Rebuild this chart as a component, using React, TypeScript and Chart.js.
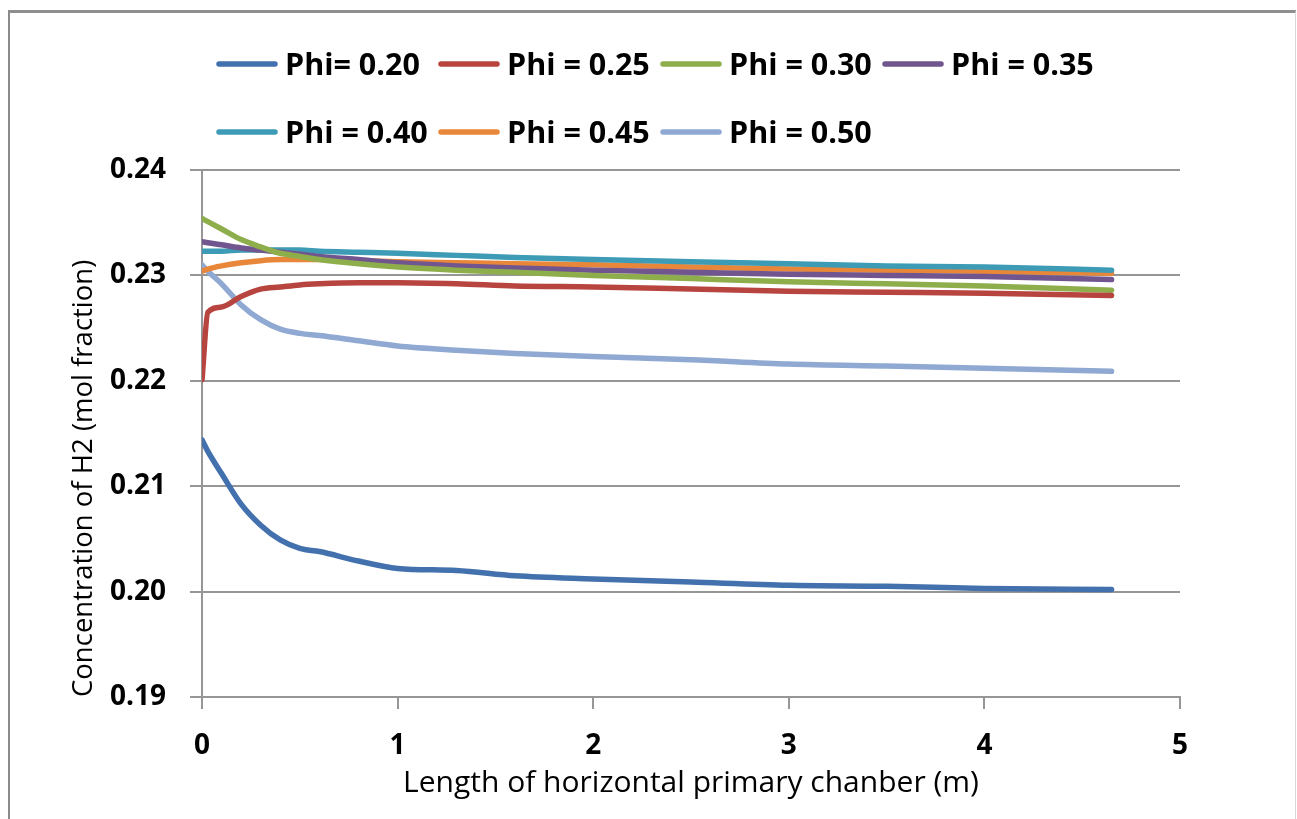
import React, { useEffect, useRef } from "react";
import { Chart, registerables } from "chart.js";

Chart.register(...registerables);

// Length along the chamber (m)
const xValues = [0, 0.03, 0.1, 0.2, 0.3, 0.4, 0.5, 0.6, 0.8, 1.0, 1.3, 1.6, 2.0, 2.5, 3.0, 3.5, 4.0, 4.65];

const seriesLabels = ["Phi= 0.20", "Phi = 0.25", "Phi = 0.30", "Phi = 0.35", "Phi = 0.40", "Phi = 0.45", "Phi = 0.50"];

const phi020 = [0.2144, 0.2133, 0.2112, 0.2083, 0.2063, 0.2049, 0.2041, 0.2038, 0.2029, 0.2022, 0.202, 0.2015, 0.2012, 0.2009, 0.2006, 0.2005, 0.2003, 0.2002];
const phi025 = [0.2201, 0.2265, 0.227, 0.228, 0.2287, 0.2289, 0.2291, 0.2292, 0.2293, 0.2293, 0.2292, 0.229, 0.2289, 0.2287, 0.2285, 0.2284, 0.2283, 0.2281];
const phi030 = [0.2354, 0.2351, 0.2344, 0.2334, 0.2327, 0.2321, 0.2318, 0.2315, 0.2311, 0.2308, 0.2305, 0.2303, 0.23, 0.2297, 0.2294, 0.2292, 0.229, 0.2286];
const phi035 = [0.2332, 0.2331, 0.2329, 0.2326, 0.2324, 0.2322, 0.232, 0.2318, 0.2315, 0.2312, 0.2309, 0.2307, 0.2305, 0.2303, 0.2301, 0.23, 0.2299, 0.2296];
const phi040 = [0.2323, 0.2323, 0.2323, 0.2324, 0.2324, 0.2324, 0.2324, 0.2323, 0.2322, 0.2321, 0.2319, 0.2317, 0.2315, 0.2313, 0.2311, 0.2309, 0.2308, 0.2305];
const phi045 = [0.2304, 0.2306, 0.2309, 0.2312, 0.2314, 0.2315, 0.2315, 0.2315, 0.2314, 0.2313, 0.2312, 0.2311, 0.231, 0.2308, 0.2306, 0.2305, 0.2304, 0.2302];
const phi050 = [0.231, 0.2304, 0.2292, 0.2272, 0.2258, 0.2249, 0.2245, 0.2243, 0.2238, 0.2233, 0.2229, 0.2226, 0.2223, 0.222, 0.2216, 0.2214, 0.2212, 0.2209];

const seriesValues = [phi020, phi025, phi030, phi035, phi040, phi045, phi050];
const seriesColors = ["#4271ad", "#b8443f", "#8eae4c", "#71558f", "#3d9bb5", "#e8873a", "#8fa9d2"];

const xTickValues = [0, 1, 2, 3, 4, 5];
const yTickValues = [0.19, 0.2, 0.21, 0.22, 0.23, 0.24];

const xTitle = "Length of horizontal primary chanber (m)";
const yTitle = "Concentration of H2 (mol fraction)";

const FONT = "'Open Sans', 'Liberation Sans', sans-serif";
const GRID = "#969696";

const legendPlugin = {
  id: "excelLegend",
  afterDraw(chart: any) {
    const ctx = chart.ctx as CanvasRenderingContext2D;
    ctx.save();
    ctx.font = `bold 30.5px ${FONT}`;
    ctx.textBaseline = "alphabetic";
    ctx.textAlign = "left";
    chart.data.datasets.forEach((ds: any, i: number) => {
      const row = i < 4 ? 0 : 1;
      const col = i < 4 ? i : i - 4;
      const x = 217 + col * 222;
      const yLine = row === 0 ? 64 : 132;
      ctx.strokeStyle = ds.borderColor;
      ctx.lineWidth = 5.5;
      ctx.lineCap = "round";
      ctx.beginPath();
      ctx.moveTo(x + 2, yLine);
      ctx.lineTo(x + 58, yLine);
      ctx.stroke();
      ctx.fillStyle = "#000";
      ctx.fillText(ds.label, x + 68, yLine + 11);
    });
    ctx.restore();
  },
};

export default function App() {
  const canvasRef = useRef<HTMLCanvasElement | null>(null);

  useEffect(() => {
    if (!canvasRef.current) return;
    const datasets = seriesValues.map((vals, i) => ({
      label: seriesLabels[i],
      data: vals.map((v, j) => ({ x: xValues[j], y: v })),
      borderColor: seriesColors[i],
      backgroundColor: seriesColors[i],
      borderWidth: 5.5,
      pointRadius: 0,
      cubicInterpolationMode: "monotone" as const,
      borderCapStyle: "round" as const,
      borderJoinStyle: "round" as const,
      fill: false,
    }));

    const chart = new Chart(canvasRef.current, {
      type: "line",
      data: { datasets },
      plugins: [legendPlugin],
      options: {
        animation: false,
        responsive: false,
        layout: { padding: { top: 170, right: 117, bottom: 0, left: 0 } },
        plugins: {
          legend: { display: false },
          tooltip: { enabled: false },
        },
        scales: {
          x: {
            type: "linear",
            min: 0,
            max: 5,
            afterBuildTicks: (s: any) => {
              s.ticks = xTickValues.map((v) => ({ value: v }));
            },
            afterFit: (s: any) => {
              s.height = 122;
            },
            grid: { drawOnChartArea: false, drawTicks: true, tickLength: 12, color: GRID, lineWidth: 2 },
            border: { display: true, color: GRID, width: 2 },
            ticks: {
              padding: 20,
              color: "#000",
              font: { family: FONT, size: 28, weight: "bold" },
              callback: (v: any) => String(v),
              maxRotation: 0,
            },
            title: {
              display: true,
              text: xTitle,
              color: "#000",
              font: { family: FONT, size: 30 },
              padding: { top: 0, bottom: 18 },
            },
          },
          y: {
            type: "linear",
            min: 0.19,
            max: 0.24,
            afterBuildTicks: (s: any) => {
              s.ticks = yTickValues.map((v) => ({ value: v }));
            },
            afterFit: (s: any) => {
              s.width = 202;
            },
            grid: { drawOnChartArea: true, drawTicks: true, tickLength: 12, color: GRID, lineWidth: 2 },
            border: { display: true, color: GRID, width: 2 },
            ticks: {
              padding: 24,
              color: "#000",
              font: { family: FONT, size: 28, weight: "bold" },
              callback: (v: any) => Number(v).toFixed(2),
            },
            title: {
              display: true,
              text: yTitle,
              align: "start",
              color: "#000",
              font: { family: FONT, size: 27.5 },
              padding: { top: 68, bottom: 0 },
            },
          },
        },
      },
    });
    return () => chart.destroy();
  }, []);

  return (
    <div style={{ position: "absolute", left: 0, top: 0, width: 1297, height: 819, overflow: "hidden", background: "#fff" }}>
      <div
        style={{
          position: "absolute",
          left: 8,
          top: 10,
          width: 1285,
          height: 830,
          borderLeft: "2px solid #8a8a8a",
          borderTop: "3px solid #8f8f8f",
          borderRight: "1px solid #d8d8d8",
        }}
      />
      <canvas ref={canvasRef} width={1297} height={819} style={{ position: "absolute", left: 0, top: 0, width: 1297, height: 819 }} />
    </div>
  );
}
